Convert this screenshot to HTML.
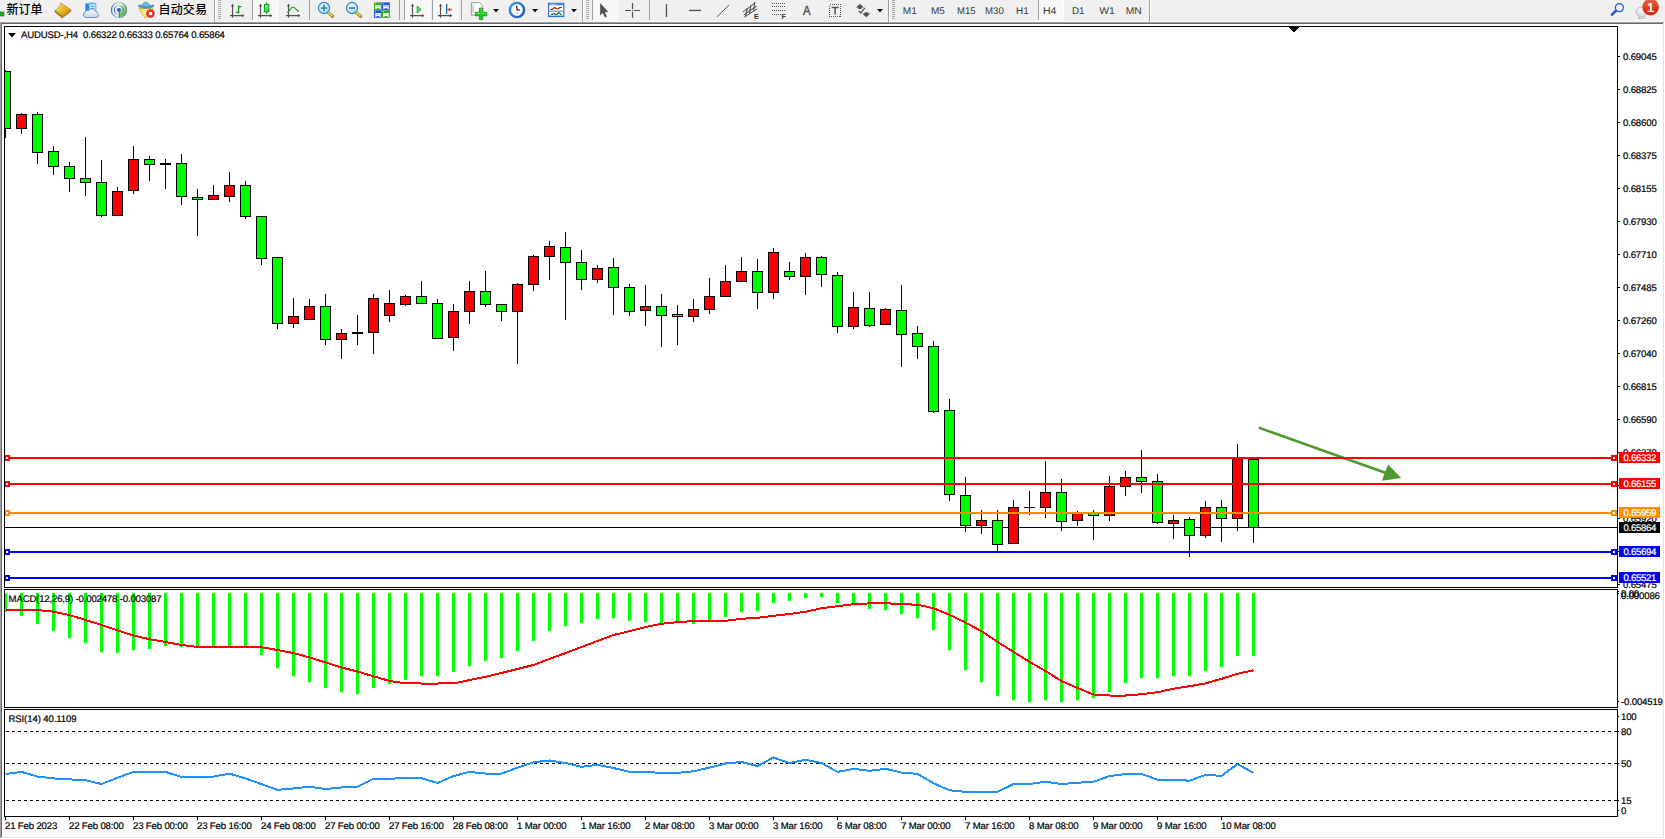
<!DOCTYPE html>
<html><head><meta charset="utf-8"><title>AUDUSD-,H4</title>
<style>
html,body{margin:0;padding:0;background:#fff;}
body{width:1665px;height:839px;position:relative;overflow:hidden;font-family:"Liberation Sans","Noto Sans CJK SC",sans-serif;}
.t{position:absolute;font-size:9.6px;line-height:11px;height:11px;color:#000;white-space:nowrap;letter-spacing:-0.16px;-webkit-text-stroke:0.2px #000;text-rendering:geometricPrecision;}
.pl{position:absolute;left:1619px;width:41px;height:10px;padding-top:1px;font-size:9.6px;line-height:11px;color:#fff;white-space:nowrap;letter-spacing:-0.3px;text-indent:4.5px;-webkit-text-stroke:0.2px #fff;overflow:hidden;text-rendering:geometricPrecision;}
#tb{position:absolute;left:0;top:0;width:1665px;height:21px;background:#f0f0f0;}
#tbh{position:absolute;left:0;top:21px;width:1664px;height:1px;background:#f6f6f6;}
#tbc{position:absolute;left:1664px;top:21px;width:1px;height:1px;background:#f0f0f0;}
#tbl{position:absolute;left:0;top:22px;width:1664px;height:1px;background:#a0a0a0;}
#tbl2{position:absolute;left:1px;top:23px;width:1662px;height:1px;background:#696969;}
#lf0{position:absolute;left:0;top:22px;width:1px;height:816px;background:#a0a0a0;}
#lf1{position:absolute;left:1px;top:23px;width:1px;height:814px;background:#696969;}
#rf{position:absolute;left:1663px;top:24px;width:1px;height:814px;background:#e3e3e3;}
#bf{position:absolute;left:1px;top:837px;width:1663px;height:1px;background:#e3e3e3;}
svg{position:absolute;left:0;top:0;}
.cj{font-family:"Liberation Sans","Noto Sans CJK SC",sans-serif;}
.la{font-family:"Liberation Sans",sans-serif;}
</style></head><body>
<div id="tb"></div><div id="tbh"></div><div id="tbc"></div><div id="tbl"></div><div id="tbl2"></div>
<div id="lf0"></div><div id="lf1"></div><div id="rf"></div><div id="bf"></div>
<svg id="tbsvg" width="1665" height="24" viewBox="0 0 1665 24" style="position:absolute;left:0;top:0"><defs><pattern id="chk" width="2" height="2" patternUnits="userSpaceOnUse"><rect width="2" height="2" fill="#f0f0f0"/><rect width="1" height="1" fill="#fff"/><rect x="1" y="1" width="1" height="1" fill="#fff"/></pattern><linearGradient id="gold" x1="0" y1="0" x2="1" y2="1"><stop offset="0" stop-color="#f8e060"/><stop offset="0.6" stop-color="#e0b020"/><stop offset="1" stop-color="#b07810"/></linearGradient><linearGradient id="blu" x1="0" y1="0" x2="0" y2="1"><stop offset="0" stop-color="#3aa0ff"/><stop offset="1" stop-color="#1060d0"/></linearGradient><radialGradient id="lens" cx="0.4" cy="0.35" r="0.7"><stop offset="0" stop-color="#f0faff"/><stop offset="1" stop-color="#a8d8f0"/></radialGradient><linearGradient id="redb" x1="0" y1="0" x2="0" y2="1"><stop offset="0" stop-color="#ea6844"/><stop offset="0.5" stop-color="#e03c20"/><stop offset="1" stop-color="#d82010"/></linearGradient><linearGradient id="cloud" x1="0" y1="0" x2="0" y2="1"><stop offset="0" stop-color="#ffffff"/><stop offset="1" stop-color="#c4d2ea"/></linearGradient><linearGradient id="face" x1="0" y1="0" x2="1" y2="1"><stop offset="0" stop-color="#f0c830"/><stop offset="0.45" stop-color="#fff0a0"/><stop offset="1" stop-color="#e0a818"/></linearGradient><linearGradient id="cgr" x1="0" y1="0" x2="0" y2="1"><stop offset="0" stop-color="#90f49a"/><stop offset="1" stop-color="#20dc38"/></linearGradient><linearGradient id="clk" x1="0" y1="0" x2="1" y2="1"><stop offset="0" stop-color="#38a0f8"/><stop offset="1" stop-color="#0850b8"/></linearGradient><linearGradient id="bub" x1="0" y1="0" x2="0" y2="1"><stop offset="0" stop-color="#ffffff"/><stop offset="0.5" stop-color="#e4e4ec"/><stop offset="1" stop-color="#d4d4e0"/></linearGradient><linearGradient id="sgr" x1="0" y1="0" x2="1" y2="0"><stop offset="0" stop-color="#3a6cd0"/><stop offset="0.35" stop-color="#a4bce8" stop-opacity="0.75"/><stop offset="0.6" stop-color="#a8ccb8" stop-opacity="0.8"/><stop offset="1" stop-color="#3c7c68" stop-opacity="0.9"/></linearGradient><linearGradient id="sgf" x1="0.2" y1="0" x2="0.5" y2="1"><stop offset="0" stop-color="#d8ecd8" stop-opacity="0.7"/><stop offset="0.6" stop-color="#9cd09c"/><stop offset="1" stop-color="#38a838"/></linearGradient></defs>
<rect x="0" y="12" width="4" height="4" fill="#20b020" stroke="#107010" stroke-width="0.6"/>
<text x="6.4" y="13.8" font-size="12" font-weight="500" fill="#000" class="cj">新订单</text>
<text x="158.6" y="13.8" font-size="12" font-weight="500" fill="#000" class="cj" textLength="48.3" lengthAdjust="spacing">自动交易</text>
<path d="M55 12 L62.2 17.9 L71 11.4 L71 9.8 L62.2 16 L55 10.4 Z" fill="#a86c12" stroke="#8a5408" stroke-width="0.5" stroke-linejoin="round"/><path d="M62.2 16.6 L70.6 10.6" stroke="#f4e4a0" stroke-width="0.6"/><path d="M60.6 3 C61 5 58 9 55 10.6 L62.2 16 L71 9.8 Z" fill="url(#gold)" stroke="#b07a14" stroke-width="0.7" stroke-linejoin="round"/><path d="M61.4 4.6 C61 7 59 9.6 57 10.8" stroke="#fff6c0" stroke-width="0.8" fill="none" opacity="0.8"/>
<polygon points="85.4,3 89,4.4 89,12.4 85.4,12.4" fill="#1e88f8"/><polygon points="85.4,3 92.4,2.2 95.8,3.4 89,4.4" fill="#6cc0ff"/><polygon points="89,4.4 95.8,3.4 95.8,12.4 89,12.4" fill="#e4f2ff" stroke="#2a8cf0" stroke-width="0.7"/><path d="M90.6 6.6 L94.4 6 M90.6 8.6 L94.4 8.2" stroke="#2a8cf0" stroke-width="0.9"/><path d="M86.2 17.5 a2.9 2.9 0 0 1 -0.6 -5.7 a2.2 2.2 0 0 1 3.2 -1.2 a3.3 3.3 0 0 1 6 0.2 a2.4 2.4 0 0 1 2.6 2.2 a2.4 2.4 0 0 1 -1 4.5 Z" fill="url(#cloud)" stroke="#5078c0" stroke-width="0.8"/>
<path d="M118.9 9.9 L122.28 2.65 A8 8 0 0 1 118.90 17.90 Z" fill="url(#sgf)"/><g fill="none"><circle cx="118.9" cy="9.9" r="7.5" stroke="url(#sgr)" stroke-width="1.25"/><circle cx="118.9" cy="9.9" r="4.55" stroke="url(#sgr)" stroke-width="1.2"/></g><circle cx="118.9" cy="9.9" r="1.9" fill="#2458c8"/><rect x="118.85000000000001" y="10.1" width="1.3" height="7.7" fill="#22a822"/>
<path d="M138.8 8.4 L153 8.4 L152.4 11 L146.6 17.8 L144.8 17.8 Z" fill="url(#face)" stroke="#d0a020" stroke-width="0.6" stroke-linejoin="round"/><path d="M138.2 5.6 C138.6 9.2 153.6 9.2 154 5.6 C153.4 4.6 151.4 5.2 150 5.8 L142.4 5.8 C141 5.2 138.8 4.6 138.2 5.6 Z" fill="#4aa0d8" stroke="#2a78b0" stroke-width="0.6"/><path d="M142.2 6.2 C142 1 149.6 1 149.4 6.2 C147 7 144.6 7 142.2 6.2 Z" fill="#6cbcea" stroke="#2a80b8" stroke-width="0.6"/><circle cx="150.5" cy="13.5" r="4.2" fill="#d82010"/><circle cx="150.5" cy="13.5" r="3.4" fill="#ee3020"/><rect x="148.9" y="11.9" width="3.2" height="3.2" fill="#fff"/>
<rect x="214" y="0" width="1" height="22" fill="#a0a0a0" shape-rendering="crispEdges"/><rect x="215" y="0" width="1" height="22" fill="#fff" shape-rendering="crispEdges"/>
<rect x="218" y="0" width="3" height="1" fill="#a8a8a8" shape-rendering="crispEdges"/>
<rect x="218" y="2" width="3" height="1" fill="#a8a8a8" shape-rendering="crispEdges"/>
<rect x="218" y="4" width="3" height="1" fill="#a8a8a8" shape-rendering="crispEdges"/>
<rect x="218" y="6" width="3" height="1" fill="#a8a8a8" shape-rendering="crispEdges"/>
<rect x="218" y="8" width="3" height="1" fill="#a8a8a8" shape-rendering="crispEdges"/>
<rect x="218" y="10" width="3" height="1" fill="#a8a8a8" shape-rendering="crispEdges"/>
<rect x="218" y="12" width="3" height="1" fill="#a8a8a8" shape-rendering="crispEdges"/>
<rect x="218" y="14" width="3" height="1" fill="#a8a8a8" shape-rendering="crispEdges"/>
<rect x="218" y="16" width="3" height="1" fill="#a8a8a8" shape-rendering="crispEdges"/>
<rect x="218" y="18" width="3" height="1" fill="#a8a8a8" shape-rendering="crispEdges"/>
<g stroke="#505050" stroke-width="1.15" fill="none"><path d="M232.5 4.6V17.8M230 15.6H243.6"/></g><polygon points="232.5,3.8 230.9,6.3 234.1,6.3" fill="#505050"/><polygon points="244.4,15.6 241.9,14 241.9,17.2" fill="#505050"/>
<path d="M238.6 5.4V13.6M238.6 6.6H241.4M236 12.4H238.6" stroke="#109018" stroke-width="1.3" fill="none"/>
<rect x="252" y="0" width="1" height="20" fill="#a0a0a0" shape-rendering="crispEdges"/>
<rect x="253" y="0" width="24" height="20" fill="url(#chk)" shape-rendering="crispEdges"/><rect x="252" y="20" width="26" height="1" fill="#fff" shape-rendering="crispEdges"/><rect x="277" y="0" width="1" height="20" fill="#fff" shape-rendering="crispEdges"/>
<g stroke="#505050" stroke-width="1.15" fill="none"><path d="M260.5 4.6V17.8M258 15.6H271.6"/></g><polygon points="260.5,3.8 258.9,6.3 262.1,6.3" fill="#505050"/><polygon points="272.4,15.6 269.9,14 269.9,17.2" fill="#505050"/>
<rect x="266" y="2.4" width="1.2" height="11.6" fill="#109018"/><rect x="264.4" y="4.5" width="4.4" height="7.2" fill="url(#cgr)" stroke="#08a010" stroke-width="1"/>
<g stroke="#505050" stroke-width="1.15" fill="none"><path d="M288.5 4.6V17.8M286 15.6H299.6"/></g><polygon points="288.5,3.8 286.9,6.3 290.1,6.3" fill="#505050"/><polygon points="300.4,15.6 297.9,14 297.9,17.2" fill="#505050"/>
<path d="M287.2 12.6 C289.5 11 291 7.2 293 7.2 C295 7.2 296.5 10.5 298.8 11.4" stroke="#30a030" stroke-width="1.2" fill="none"/>
<rect x="309" y="0" width="1" height="20" fill="#a0a0a0" shape-rendering="crispEdges"/>
<path d="M327.8 12.2 L332.4 16.2" stroke="#b08818" stroke-width="3.2" stroke-linecap="square"/><path d="M327.8 12 L332.4 16" stroke="#f0d860" stroke-width="1.5"/>
<circle cx="324" cy="8" r="5.6" fill="url(#lens)" stroke="#2a80d0" stroke-width="1.1"/>
<rect x="320.8" y="7.2" width="6.4" height="1.7" fill="#3a88b8"/>
<rect x="323.15" y="4.8" width="1.7" height="6.4" fill="#3a88b8"/>
<path d="M355.8 12.2 L360.4 16.2" stroke="#b08818" stroke-width="3.2" stroke-linecap="square"/><path d="M355.8 12 L360.4 16" stroke="#f0d860" stroke-width="1.5"/>
<circle cx="352" cy="8" r="5.6" fill="url(#lens)" stroke="#2a80d0" stroke-width="1.1"/>
<rect x="348.8" y="7.2" width="6.4" height="1.7" fill="#3a88b8"/>
<rect x="374" y="2.4" width="7.8" height="7.6" fill="#3aa428"/><path d="M375.2 9.2 V5.3 H380.7 V9.2 H379.4 V8.2 H376.5 V9.2 Z" fill="#f6faff"/><rect x="376.1" y="6.1" width="3.7" height="0.8" fill="#a8e498"/><rect x="375.2" y="3.3" width="0.9" height="0.9" fill="#d8ecff"/>
<rect x="382" y="2.4" width="7.8" height="7.6" fill="#2456d8"/><path d="M383.2 9.2 V5.3 H388.7 V9.2 H387.4 V8.2 H384.5 V9.2 Z" fill="#f6faff"/><rect x="384.1" y="6.1" width="3.7" height="0.8" fill="#a8b8f4"/><rect x="383.2" y="3.3" width="0.9" height="0.9" fill="#d8ecff"/>
<rect x="374" y="10.2" width="7.8" height="7.6" fill="#2456d8"/><path d="M375.2 17.0 V13.1 H380.7 V17.0 H379.4 V16.0 H376.5 V17.0 Z" fill="#f6faff"/><rect x="376.1" y="13.899999999999999" width="3.7" height="0.8" fill="#a8b8f4"/><rect x="375.2" y="11.1" width="0.9" height="0.9" fill="#d8ecff"/>
<rect x="382" y="10.2" width="7.8" height="7.6" fill="#3aa428"/><path d="M383.2 17.0 V13.1 H388.7 V17.0 H387.4 V16.0 H384.5 V17.0 Z" fill="#f6faff"/><rect x="384.1" y="13.899999999999999" width="3.7" height="0.8" fill="#a8e498"/><rect x="383.2" y="11.1" width="0.9" height="0.9" fill="#d8ecff"/>
<rect x="399" y="0" width="1" height="20" fill="#a0a0a0" shape-rendering="crispEdges"/>
<rect x="404" y="0" width="1" height="20" fill="#a0a0a0" shape-rendering="crispEdges"/>
<rect x="405" y="0" width="24" height="20" fill="url(#chk)" shape-rendering="crispEdges"/><rect x="404" y="20" width="26" height="1" fill="#fff" shape-rendering="crispEdges"/><rect x="429" y="0" width="1" height="20" fill="#fff" shape-rendering="crispEdges"/>
<g stroke="#505050" stroke-width="1.15" fill="none"><path d="M412.5 4.6V17.8M410 15.6H423.6"/></g><polygon points="412.5,3.8 410.9,6.3 414.1,6.3" fill="#505050"/><polygon points="424.4,15.6 421.9,14 421.9,17.2" fill="#505050"/>
<polygon points="417.2,6 421,9.6 417.2,13" fill="#60d868" stroke="#18a020" stroke-width="0.9"/>
<rect x="432" y="0" width="1" height="20" fill="#a0a0a0" shape-rendering="crispEdges"/>
<rect x="433" y="0" width="24" height="20" fill="url(#chk)" shape-rendering="crispEdges"/><rect x="432" y="20" width="26" height="1" fill="#fff" shape-rendering="crispEdges"/><rect x="457" y="0" width="1" height="20" fill="#fff" shape-rendering="crispEdges"/>
<g stroke="#505050" stroke-width="1.15" fill="none"><path d="M440.5 4.6V17.8M438 15.6H451.6"/></g><polygon points="440.5,3.8 438.9,6.3 442.1,6.3" fill="#505050"/><polygon points="452.4,15.6 449.9,14 449.9,17.2" fill="#505050"/>
<rect x="446" y="4" width="1.3" height="10" fill="#1868a8"/><path d="M447.6 9.6 H452" stroke="#e04808" stroke-width="1.2"/><polygon points="447.4,9.6 450.2,7.4 450.2,11.8" fill="#e04808"/>
<rect x="461" y="0" width="1" height="20" fill="#a0a0a0" shape-rendering="crispEdges"/>
<path d="M471.4 2.6 H479.6 L482.6 5.4 V15.2 H471.4 Z" fill="#fbfbfb" stroke="#8a8a8a" stroke-width="0.8"/><path d="M474.6 5.2 c-1.4 0 -1.4 2 -1.4 3.4 s0 3.6 1.4 3.6" stroke="#b0a890" stroke-width="0.9" fill="none"/><path d="M479.4 8.2 H482.8 V12.4 H486.8 V15.8 H482.8 V19.6 H479.4 V15.8 H475.4 V12.4 H479.4 Z" fill="#18c818" stroke="#0a8c0a" stroke-width="0.8"/><path d="M480.4 9.2 H481.8 V13.4 H485.8 M476.4 13.4 H480.4 Z" fill="none" stroke="#80f880" stroke-width="0.8" opacity="0.8"/><path d="M471.8 3 V14.8" stroke="#9a9a9a" stroke-width="0.6"/>
<polygon points="493,9 499,9 496,12.2" fill="#000"/>
<circle cx="517" cy="10" r="7" fill="#fdfdfd" stroke="url(#clk)" stroke-width="2.2"/><circle cx="517" cy="10" r="8.05" fill="none" stroke="#0a50a8" stroke-width="0.4"/><g stroke="#b8b8b8" stroke-width="0.7"><path d="M517 4.6v1M517 14.4v1M511.6 10h1M521.4 10h1M513.2 6.2l.7 .7M520.1 13.1l.7 .7M513.2 13.8l.7 -.7M520.1 6.9l.7 -.7"/></g><path d="M516.6 5.8 L517.2 10.2 L520 10" stroke="#202020" stroke-width="1.2" fill="none"/><path d="M516.2 12.8 H518.6" stroke="#60a8f0" stroke-width="0.8"/>
<polygon points="532,9 538,9 535,12.2" fill="#000"/>
<rect x="548.6" y="3.3" width="15.2" height="13.3" fill="#fff" stroke="#2e6cc4" stroke-width="1.1"/><rect x="549" y="3.6" width="14.4" height="1.7" fill="#4a8ae0"/><rect x="550" y="3.9" width="6" height="0.7" fill="#c8e0ff"/><rect x="549" y="10.7" width="14.4" height="0.9" fill="#3a78d0"/><rect x="549" y="15.6" width="14.4" height="0.9" fill="#2e6cc4"/><path d="M550.4 9.3 H552.4 L553.8 7.9 H555.6 L556.8 8.7 H558.6 L559.8 7.5 H561.8" stroke="#8c1c04" stroke-width="1.15" fill="none"/><path d="M551 14.3 H552.6 L553.8 13.5 L555.4 14.3 H556.8 L558.6 12.5 L560 13.5 L561.4 14.7" stroke="#107c24" stroke-width="1.15" fill="none"/>
<polygon points="571,9 577,9 574,12.2" fill="#000"/>
<rect x="582" y="0" width="1" height="22" fill="#a0a0a0" shape-rendering="crispEdges"/><rect x="583" y="0" width="1" height="22" fill="#fff" shape-rendering="crispEdges"/>
<rect x="586" y="0" width="3" height="1" fill="#a8a8a8" shape-rendering="crispEdges"/>
<rect x="586" y="2" width="3" height="1" fill="#a8a8a8" shape-rendering="crispEdges"/>
<rect x="586" y="4" width="3" height="1" fill="#a8a8a8" shape-rendering="crispEdges"/>
<rect x="586" y="6" width="3" height="1" fill="#a8a8a8" shape-rendering="crispEdges"/>
<rect x="586" y="8" width="3" height="1" fill="#a8a8a8" shape-rendering="crispEdges"/>
<rect x="586" y="10" width="3" height="1" fill="#a8a8a8" shape-rendering="crispEdges"/>
<rect x="586" y="12" width="3" height="1" fill="#a8a8a8" shape-rendering="crispEdges"/>
<rect x="586" y="14" width="3" height="1" fill="#a8a8a8" shape-rendering="crispEdges"/>
<rect x="586" y="16" width="3" height="1" fill="#a8a8a8" shape-rendering="crispEdges"/>
<rect x="586" y="18" width="3" height="1" fill="#a8a8a8" shape-rendering="crispEdges"/>
<rect x="592" y="0" width="1" height="20" fill="#a0a0a0" shape-rendering="crispEdges"/>
<rect x="593" y="0" width="24" height="20" fill="url(#chk)" shape-rendering="crispEdges"/><rect x="592" y="20" width="26" height="1" fill="#fff" shape-rendering="crispEdges"/><rect x="617" y="0" width="1" height="20" fill="#fff" shape-rendering="crispEdges"/>
<path d="M600.2 3 V15.4 L602.8 13 L605 17.4 L606.8 16.6 L604.8 12.2 L608.2 12 Z" fill="#505050"/>
<path d="M632.5 3V9M632.5 12V17.8M625 10.5H631M634 10.5H640" stroke="#505050" stroke-width="1.2" fill="none"/><rect x="632" y="10" width="1" height="1" fill="#505050"/>
<rect x="649" y="0" width="1" height="20" fill="#a0a0a0" shape-rendering="crispEdges"/>
<rect x="665.8" y="4" width="1.3" height="13" fill="#505050"/>
<rect x="689" y="9.8" width="12" height="1.3" fill="#505050"/>
<path d="M717 16.8 L729 5" stroke="#505050" stroke-width="1"/>
<g stroke="#484848" stroke-width="1" fill="none"><path d="M742.9 12.1 L755 2.8M743.8 14.9 L756.9 6M744.3 17.2 L757.3 8.8"/><path d="M747.1 8.4 L745.7 16.3M750.8 5.6 L749.4 14M754.8 2 L753.6 10.7" stroke-width="1.1"/></g>
<text x="754" y="18.6" font-size="7" font-weight="bold" fill="#303030" class="la">E</text>
<line x1="772" x2="785" y1="3.5" y2="3.5" stroke="#505050" stroke-width="1" stroke-dasharray="1 1" shape-rendering="crispEdges"/>
<line x1="772" x2="785" y1="6.9" y2="6.9" stroke="#505050" stroke-width="1" stroke-dasharray="1 1" shape-rendering="crispEdges"/>
<line x1="772" x2="785" y1="10.7" y2="10.7" stroke="#505050" stroke-width="1" stroke-dasharray="1 1" shape-rendering="crispEdges"/>
<line x1="772" x2="781" y1="14.5" y2="14.5" stroke="#505050" stroke-width="1" stroke-dasharray="1 1" shape-rendering="crispEdges"/>
<text x="781.6" y="18.6" font-size="7" font-weight="bold" fill="#303030" class="la">F</text>
<text x="802.9" y="15" font-size="12.4" fill="#505050" stroke="#505050" stroke-width="0.4" class="la" textLength="7.6" lengthAdjust="spacingAndGlyphs">A</text>
<rect x="829.5" y="4.5" width="11" height="12" fill="none" stroke="#505050" stroke-width="1" stroke-dasharray="1 1" shape-rendering="crispEdges"/><path d="M831.6 7.4 H838.6 M835.1 7.4 V14.6" stroke="#505050" stroke-width="1.5" fill="none"/>
<polygon points="859.9,4 855.8,7.6 858.2,7.6 858.2,8.9 861.6,8.9 861.6,7.6 864,7.6" fill="#505050"/><polygon points="866.3,17.3 862.2,13.6 864.6,13.6 864.6,12.2 868,12.2 868,13.6 870.4,13.6" fill="#505050"/><path d="M858.6 10.8 L860.7 13 L864.9 7.9" stroke="#505050" stroke-width="1.2" fill="none"/>
<polygon points="877,9 883,9 880,12.2" fill="#000"/>
<rect x="888" y="0" width="1" height="22" fill="#a0a0a0" shape-rendering="crispEdges"/><rect x="889" y="0" width="1" height="22" fill="#fff" shape-rendering="crispEdges"/>
<rect x="892" y="0" width="3" height="1" fill="#a8a8a8" shape-rendering="crispEdges"/>
<rect x="892" y="2" width="3" height="1" fill="#a8a8a8" shape-rendering="crispEdges"/>
<rect x="892" y="4" width="3" height="1" fill="#a8a8a8" shape-rendering="crispEdges"/>
<rect x="892" y="6" width="3" height="1" fill="#a8a8a8" shape-rendering="crispEdges"/>
<rect x="892" y="8" width="3" height="1" fill="#a8a8a8" shape-rendering="crispEdges"/>
<rect x="892" y="10" width="3" height="1" fill="#a8a8a8" shape-rendering="crispEdges"/>
<rect x="892" y="12" width="3" height="1" fill="#a8a8a8" shape-rendering="crispEdges"/>
<rect x="892" y="14" width="3" height="1" fill="#a8a8a8" shape-rendering="crispEdges"/>
<rect x="892" y="16" width="3" height="1" fill="#a8a8a8" shape-rendering="crispEdges"/>
<rect x="892" y="18" width="3" height="1" fill="#a8a8a8" shape-rendering="crispEdges"/>
<text x="902.8" y="14" font-size="9.8" fill="#383838" class="la" text-rendering="geometricPrecision" textLength="14.0" lengthAdjust="spacingAndGlyphs">M1</text>
<text x="931.0" y="14" font-size="9.8" fill="#383838" class="la" text-rendering="geometricPrecision" textLength="13.9" lengthAdjust="spacingAndGlyphs">M5</text>
<text x="957.1" y="14" font-size="9.8" fill="#383838" class="la" text-rendering="geometricPrecision" textLength="18.5" lengthAdjust="spacingAndGlyphs">M15</text>
<text x="985.1" y="14" font-size="9.8" fill="#383838" class="la" text-rendering="geometricPrecision" textLength="18.7" lengthAdjust="spacingAndGlyphs">M30</text>
<text x="1016.0" y="14" font-size="9.8" fill="#383838" class="la" text-rendering="geometricPrecision" textLength="12.7" lengthAdjust="spacingAndGlyphs">H1</text>
<rect x="1038" y="0" width="1" height="20" fill="#a0a0a0" shape-rendering="crispEdges"/>
<rect x="1039" y="0" width="24" height="20" fill="url(#chk)" shape-rendering="crispEdges"/><rect x="1038" y="20" width="26" height="1" fill="#fff" shape-rendering="crispEdges"/><rect x="1063" y="0" width="1" height="20" fill="#fff" shape-rendering="crispEdges"/>
<text x="1042.9" y="14" font-size="9.8" fill="#383838" class="la" text-rendering="geometricPrecision" textLength="13.5" lengthAdjust="spacingAndGlyphs">H4</text>
<text x="1072.0" y="14" font-size="9.8" fill="#383838" class="la" text-rendering="geometricPrecision" textLength="12.6" lengthAdjust="spacingAndGlyphs">D1</text>
<text x="1099.3" y="14" font-size="9.8" fill="#383838" class="la" text-rendering="geometricPrecision" textLength="15.6" lengthAdjust="spacingAndGlyphs">W1</text>
<text x="1125.8" y="14" font-size="9.8" fill="#383838" class="la" text-rendering="geometricPrecision" textLength="16.0" lengthAdjust="spacingAndGlyphs">MN</text>
<rect x="1149" y="0" width="1" height="22" fill="#a0a0a0" shape-rendering="crispEdges"/><rect x="1150" y="0" width="1" height="22" fill="#fff" shape-rendering="crispEdges"/>
<path d="M1616 10.6 L1612 14.6" stroke="#1c4cc8" stroke-width="2.5" stroke-linecap="round"/><path d="M1615.6 11 L1612.4 14.2" stroke="#9ab4f0" stroke-width="0.7" stroke-dasharray="0.7 0.9"/><circle cx="1619.4" cy="7.6" r="4" fill="#f6f6ff" stroke="#2458d4" stroke-width="1.3"/>
<ellipse cx="1642" cy="18.4" rx="5" ry="0.8" fill="#c8c8c8" opacity="0.6"/><path d="M1636.2 12 a5.7 4.9 0 1 1 5.9 4.9 l-0.6 0 l-2.4 1.9 l0.3 -2.4 a5.7 4.9 0 0 1 -3.2 -4.4 Z" fill="url(#bub)" stroke="#a8a8ac" stroke-width="0.8"/><circle cx="1650.6" cy="7.2" r="8.3" fill="url(#redb)"/><text x="1646.9" y="12.1" font-size="12.8" font-weight="bold" fill="#fff" class="la">1</text></svg>
<svg width="1665" height="839" viewBox="0 0 1665 839" shape-rendering="crispEdges">
<defs><clipPath id="cc"><rect x="5" y="27" width="1612" height="560"/></clipPath></defs>
<rect x="5" y="527" width="1612" height="1" fill="#000"/>
<g id="candles" clip-path="url(#cc)">
<rect x="5" y="70" width="1" height="68" fill="#000"/>
<rect x="0" y="71" width="11" height="58" fill="#000"/>
<rect x="1" y="72" width="9" height="56" fill="#00ff00"/>
<rect x="21" y="113" width="1" height="21" fill="#000"/>
<rect x="16" y="114" width="11" height="15" fill="#000"/>
<rect x="17" y="115" width="9" height="13" fill="#ff0000"/>
<rect x="37" y="112" width="1" height="52" fill="#000"/>
<rect x="32" y="114" width="11" height="39" fill="#000"/>
<rect x="33" y="115" width="9" height="37" fill="#00ff00"/>
<rect x="53" y="146" width="1" height="29" fill="#000"/>
<rect x="48" y="151" width="11" height="16" fill="#000"/>
<rect x="49" y="152" width="9" height="14" fill="#00ff00"/>
<rect x="69" y="162" width="1" height="30" fill="#000"/>
<rect x="64" y="166" width="11" height="13" fill="#000"/>
<rect x="65" y="167" width="9" height="11" fill="#00ff00"/>
<rect x="85" y="137" width="1" height="59" fill="#000"/>
<rect x="80" y="178" width="11" height="5" fill="#000"/>
<rect x="81" y="179" width="9" height="3" fill="#00ff00"/>
<rect x="101" y="160" width="1" height="57" fill="#000"/>
<rect x="96" y="182" width="11" height="34" fill="#000"/>
<rect x="97" y="183" width="9" height="32" fill="#00ff00"/>
<rect x="117" y="187" width="1" height="29" fill="#000"/>
<rect x="112" y="191" width="11" height="25" fill="#000"/>
<rect x="113" y="192" width="9" height="23" fill="#ff0000"/>
<rect x="133" y="146" width="1" height="48" fill="#000"/>
<rect x="128" y="159" width="11" height="32" fill="#000"/>
<rect x="129" y="160" width="9" height="30" fill="#ff0000"/>
<rect x="149" y="156" width="1" height="25" fill="#000"/>
<rect x="144" y="159" width="11" height="6" fill="#000"/>
<rect x="145" y="160" width="9" height="4" fill="#00ff00"/>
<rect x="165" y="159" width="1" height="30" fill="#000"/>
<rect x="160" y="163" width="11" height="2" fill="#000"/>
<rect x="181" y="154" width="1" height="51" fill="#000"/>
<rect x="176" y="163" width="11" height="34" fill="#000"/>
<rect x="177" y="164" width="9" height="32" fill="#00ff00"/>
<rect x="197" y="189" width="1" height="47" fill="#000"/>
<rect x="192" y="197" width="11" height="3" fill="#000"/>
<rect x="193" y="198" width="9" height="1" fill="#00ff00"/>
<rect x="213" y="185" width="1" height="15" fill="#000"/>
<rect x="208" y="195" width="11" height="5" fill="#000"/>
<rect x="209" y="196" width="9" height="3" fill="#ff0000"/>
<rect x="229" y="172" width="1" height="30" fill="#000"/>
<rect x="224" y="185" width="11" height="12" fill="#000"/>
<rect x="225" y="186" width="9" height="10" fill="#ff0000"/>
<rect x="245" y="181" width="1" height="38" fill="#000"/>
<rect x="240" y="185" width="11" height="32" fill="#000"/>
<rect x="241" y="186" width="9" height="30" fill="#00ff00"/>
<rect x="261" y="216" width="1" height="49" fill="#000"/>
<rect x="256" y="216" width="11" height="43" fill="#000"/>
<rect x="257" y="217" width="9" height="41" fill="#00ff00"/>
<rect x="277" y="257" width="1" height="72" fill="#000"/>
<rect x="272" y="257" width="11" height="67" fill="#000"/>
<rect x="273" y="258" width="9" height="65" fill="#00ff00"/>
<rect x="293" y="298" width="1" height="30" fill="#000"/>
<rect x="288" y="316" width="11" height="8" fill="#000"/>
<rect x="289" y="317" width="9" height="6" fill="#ff0000"/>
<rect x="309" y="299" width="1" height="21" fill="#000"/>
<rect x="304" y="306" width="11" height="14" fill="#000"/>
<rect x="305" y="307" width="9" height="12" fill="#ff0000"/>
<rect x="325" y="294" width="1" height="51" fill="#000"/>
<rect x="320" y="306" width="11" height="34" fill="#000"/>
<rect x="321" y="307" width="9" height="32" fill="#00ff00"/>
<rect x="341" y="329" width="1" height="30" fill="#000"/>
<rect x="336" y="333" width="11" height="7" fill="#000"/>
<rect x="337" y="334" width="9" height="5" fill="#ff0000"/>
<rect x="357" y="315" width="1" height="30" fill="#000"/>
<rect x="352" y="332" width="11" height="2" fill="#000"/>
<rect x="373" y="294" width="1" height="60" fill="#000"/>
<rect x="368" y="298" width="11" height="35" fill="#000"/>
<rect x="369" y="299" width="9" height="33" fill="#ff0000"/>
<rect x="389" y="290" width="1" height="32" fill="#000"/>
<rect x="384" y="303" width="11" height="13" fill="#000"/>
<rect x="385" y="304" width="9" height="11" fill="#ff0000"/>
<rect x="405" y="295" width="1" height="11" fill="#000"/>
<rect x="400" y="296" width="11" height="9" fill="#000"/>
<rect x="401" y="297" width="9" height="7" fill="#ff0000"/>
<rect x="421" y="281" width="1" height="23" fill="#000"/>
<rect x="416" y="296" width="11" height="8" fill="#000"/>
<rect x="417" y="297" width="9" height="6" fill="#00ff00"/>
<rect x="437" y="299" width="1" height="40" fill="#000"/>
<rect x="432" y="303" width="11" height="36" fill="#000"/>
<rect x="433" y="304" width="9" height="34" fill="#00ff00"/>
<rect x="453" y="304" width="1" height="47" fill="#000"/>
<rect x="448" y="311" width="11" height="27" fill="#000"/>
<rect x="449" y="312" width="9" height="25" fill="#ff0000"/>
<rect x="469" y="281" width="1" height="43" fill="#000"/>
<rect x="464" y="291" width="11" height="21" fill="#000"/>
<rect x="465" y="292" width="9" height="19" fill="#ff0000"/>
<rect x="485" y="271" width="1" height="36" fill="#000"/>
<rect x="480" y="291" width="11" height="14" fill="#000"/>
<rect x="481" y="292" width="9" height="12" fill="#00ff00"/>
<rect x="501" y="304" width="1" height="17" fill="#000"/>
<rect x="496" y="304" width="11" height="8" fill="#000"/>
<rect x="497" y="305" width="9" height="6" fill="#00ff00"/>
<rect x="517" y="283" width="1" height="81" fill="#000"/>
<rect x="512" y="284" width="11" height="28" fill="#000"/>
<rect x="513" y="285" width="9" height="26" fill="#ff0000"/>
<rect x="533" y="255" width="1" height="36" fill="#000"/>
<rect x="528" y="256" width="11" height="29" fill="#000"/>
<rect x="529" y="257" width="9" height="27" fill="#ff0000"/>
<rect x="549" y="241" width="1" height="39" fill="#000"/>
<rect x="544" y="246" width="11" height="11" fill="#000"/>
<rect x="545" y="247" width="9" height="9" fill="#ff0000"/>
<rect x="565" y="232" width="1" height="88" fill="#000"/>
<rect x="560" y="247" width="11" height="16" fill="#000"/>
<rect x="561" y="248" width="9" height="14" fill="#00ff00"/>
<rect x="581" y="250" width="1" height="40" fill="#000"/>
<rect x="576" y="262" width="11" height="18" fill="#000"/>
<rect x="577" y="263" width="9" height="16" fill="#00ff00"/>
<rect x="597" y="265" width="1" height="18" fill="#000"/>
<rect x="592" y="268" width="11" height="12" fill="#000"/>
<rect x="593" y="269" width="9" height="10" fill="#ff0000"/>
<rect x="613" y="258" width="1" height="57" fill="#000"/>
<rect x="608" y="267" width="11" height="21" fill="#000"/>
<rect x="609" y="268" width="9" height="19" fill="#00ff00"/>
<rect x="629" y="284" width="1" height="32" fill="#000"/>
<rect x="624" y="287" width="11" height="25" fill="#000"/>
<rect x="625" y="288" width="9" height="23" fill="#00ff00"/>
<rect x="645" y="285" width="1" height="41" fill="#000"/>
<rect x="640" y="306" width="11" height="5" fill="#000"/>
<rect x="641" y="307" width="9" height="3" fill="#ff0000"/>
<rect x="661" y="294" width="1" height="53" fill="#000"/>
<rect x="656" y="306" width="11" height="10" fill="#000"/>
<rect x="657" y="307" width="9" height="8" fill="#00ff00"/>
<rect x="677" y="305" width="1" height="40" fill="#000"/>
<rect x="672" y="314" width="11" height="3" fill="#000"/>
<rect x="673" y="315" width="9" height="1" fill="#00ff00"/>
<rect x="693" y="299" width="1" height="23" fill="#000"/>
<rect x="688" y="309" width="11" height="8" fill="#000"/>
<rect x="689" y="310" width="9" height="6" fill="#ff0000"/>
<rect x="709" y="278" width="1" height="36" fill="#000"/>
<rect x="704" y="296" width="11" height="14" fill="#000"/>
<rect x="705" y="297" width="9" height="12" fill="#ff0000"/>
<rect x="725" y="265" width="1" height="32" fill="#000"/>
<rect x="720" y="281" width="11" height="16" fill="#000"/>
<rect x="721" y="282" width="9" height="14" fill="#ff0000"/>
<rect x="741" y="257" width="1" height="25" fill="#000"/>
<rect x="736" y="271" width="11" height="11" fill="#000"/>
<rect x="737" y="272" width="9" height="9" fill="#ff0000"/>
<rect x="757" y="259" width="1" height="50" fill="#000"/>
<rect x="752" y="271" width="11" height="22" fill="#000"/>
<rect x="753" y="272" width="9" height="20" fill="#00ff00"/>
<rect x="773" y="248" width="1" height="51" fill="#000"/>
<rect x="768" y="252" width="11" height="41" fill="#000"/>
<rect x="769" y="253" width="9" height="39" fill="#ff0000"/>
<rect x="789" y="262" width="1" height="18" fill="#000"/>
<rect x="784" y="271" width="11" height="6" fill="#000"/>
<rect x="785" y="272" width="9" height="4" fill="#00ff00"/>
<rect x="805" y="253" width="1" height="42" fill="#000"/>
<rect x="800" y="257" width="11" height="20" fill="#000"/>
<rect x="801" y="258" width="9" height="18" fill="#ff0000"/>
<rect x="821" y="256" width="1" height="31" fill="#000"/>
<rect x="816" y="257" width="11" height="18" fill="#000"/>
<rect x="817" y="258" width="9" height="16" fill="#00ff00"/>
<rect x="837" y="272" width="1" height="61" fill="#000"/>
<rect x="832" y="275" width="11" height="52" fill="#000"/>
<rect x="833" y="276" width="9" height="50" fill="#00ff00"/>
<rect x="853" y="292" width="1" height="37" fill="#000"/>
<rect x="848" y="307" width="11" height="20" fill="#000"/>
<rect x="849" y="308" width="9" height="18" fill="#ff0000"/>
<rect x="869" y="292" width="1" height="35" fill="#000"/>
<rect x="864" y="308" width="11" height="18" fill="#000"/>
<rect x="865" y="309" width="9" height="16" fill="#00ff00"/>
<rect x="885" y="308" width="1" height="17" fill="#000"/>
<rect x="880" y="309" width="11" height="16" fill="#000"/>
<rect x="881" y="310" width="9" height="14" fill="#ff0000"/>
<rect x="901" y="285" width="1" height="82" fill="#000"/>
<rect x="896" y="310" width="11" height="25" fill="#000"/>
<rect x="897" y="311" width="9" height="23" fill="#00ff00"/>
<rect x="917" y="326" width="1" height="33" fill="#000"/>
<rect x="912" y="333" width="11" height="14" fill="#000"/>
<rect x="913" y="334" width="9" height="12" fill="#00ff00"/>
<rect x="933" y="341" width="1" height="72" fill="#000"/>
<rect x="928" y="346" width="11" height="66" fill="#000"/>
<rect x="929" y="347" width="9" height="64" fill="#00ff00"/>
<rect x="949" y="399" width="1" height="102" fill="#000"/>
<rect x="944" y="410" width="11" height="85" fill="#000"/>
<rect x="945" y="411" width="9" height="83" fill="#00ff00"/>
<rect x="965" y="477" width="1" height="55" fill="#000"/>
<rect x="960" y="495" width="11" height="31" fill="#000"/>
<rect x="961" y="496" width="9" height="29" fill="#00ff00"/>
<rect x="981" y="510" width="1" height="24" fill="#000"/>
<rect x="976" y="520" width="11" height="6" fill="#000"/>
<rect x="977" y="521" width="9" height="4" fill="#ff0000"/>
<rect x="997" y="510" width="1" height="41" fill="#000"/>
<rect x="992" y="520" width="11" height="25" fill="#000"/>
<rect x="993" y="521" width="9" height="23" fill="#00ff00"/>
<rect x="1013" y="500" width="1" height="44" fill="#000"/>
<rect x="1008" y="507" width="11" height="37" fill="#000"/>
<rect x="1009" y="508" width="9" height="35" fill="#ff0000"/>
<rect x="1029" y="491" width="1" height="24" fill="#000"/>
<rect x="1024" y="507" width="11" height="1" fill="#000"/>
<rect x="1045" y="461" width="1" height="57" fill="#000"/>
<rect x="1040" y="492" width="11" height="16" fill="#000"/>
<rect x="1041" y="493" width="9" height="14" fill="#ff0000"/>
<rect x="1061" y="479" width="1" height="52" fill="#000"/>
<rect x="1056" y="492" width="11" height="30" fill="#000"/>
<rect x="1057" y="493" width="9" height="28" fill="#00ff00"/>
<rect x="1077" y="511" width="1" height="15" fill="#000"/>
<rect x="1072" y="513" width="11" height="8" fill="#000"/>
<rect x="1073" y="514" width="9" height="6" fill="#ff0000"/>
<rect x="1093" y="510" width="1" height="30" fill="#000"/>
<rect x="1088" y="513" width="11" height="3" fill="#000"/>
<rect x="1089" y="514" width="9" height="1" fill="#00ff00"/>
<rect x="1109" y="476" width="1" height="45" fill="#000"/>
<rect x="1104" y="486" width="11" height="30" fill="#000"/>
<rect x="1105" y="487" width="9" height="28" fill="#ff0000"/>
<rect x="1125" y="471" width="1" height="25" fill="#000"/>
<rect x="1120" y="477" width="11" height="10" fill="#000"/>
<rect x="1121" y="478" width="9" height="8" fill="#ff0000"/>
<rect x="1141" y="450" width="1" height="43" fill="#000"/>
<rect x="1136" y="477" width="11" height="5" fill="#000"/>
<rect x="1137" y="478" width="9" height="3" fill="#00ff00"/>
<rect x="1157" y="474" width="1" height="50" fill="#000"/>
<rect x="1152" y="481" width="11" height="42" fill="#000"/>
<rect x="1153" y="482" width="9" height="40" fill="#00ff00"/>
<rect x="1173" y="515" width="1" height="24" fill="#000"/>
<rect x="1168" y="520" width="11" height="4" fill="#000"/>
<rect x="1169" y="521" width="9" height="2" fill="#ff0000"/>
<rect x="1189" y="517" width="1" height="40" fill="#000"/>
<rect x="1184" y="519" width="11" height="17" fill="#000"/>
<rect x="1185" y="520" width="9" height="15" fill="#00ff00"/>
<rect x="1205" y="501" width="1" height="37" fill="#000"/>
<rect x="1200" y="507" width="11" height="29" fill="#000"/>
<rect x="1201" y="508" width="9" height="27" fill="#ff0000"/>
<rect x="1221" y="500" width="1" height="42" fill="#000"/>
<rect x="1216" y="507" width="11" height="12" fill="#000"/>
<rect x="1217" y="508" width="9" height="10" fill="#00ff00"/>
<rect x="1237" y="444" width="1" height="87" fill="#000"/>
<rect x="1232" y="459" width="11" height="60" fill="#000"/>
<rect x="1233" y="460" width="9" height="58" fill="#ff0000"/>
<rect x="1253" y="459" width="1" height="84" fill="#000"/>
<rect x="1248" y="459" width="11" height="69" fill="#000"/>
<rect x="1249" y="460" width="9" height="67" fill="#00ff00"/>
</g>
<g id="arrow"><line x1="1258.7" y1="427.6" x2="1386" y2="473" stroke="#4e9a2e" stroke-width="2.6" shape-rendering="auto"/><polygon points="1401.3,478.1 1388.1,464.6 1381.8,480.8" fill="#4e9a2e" shape-rendering="auto"/></g>
<g id="hlines">
<rect x="5" y="457" width="1612" height="2" fill="#ff0000"/>
<rect x="4" y="455" width="6" height="6" fill="#ff0000"/><rect x="6" y="457" width="2" height="2" fill="#fff"/>
<rect x="1611" y="455" width="6" height="6" fill="#ff0000"/><rect x="1613" y="457" width="2" height="2" fill="#fff"/>
<rect x="5" y="483" width="1612" height="2" fill="#ff0000"/>
<rect x="4" y="481" width="6" height="6" fill="#ff0000"/><rect x="6" y="483" width="2" height="2" fill="#fff"/>
<rect x="1611" y="481" width="6" height="6" fill="#ff0000"/><rect x="1613" y="483" width="2" height="2" fill="#fff"/>
<rect x="5" y="512" width="1612" height="2" fill="#ff8c00"/>
<rect x="4" y="510" width="6" height="6" fill="#ff8c00"/><rect x="6" y="512" width="2" height="2" fill="#fff"/>
<rect x="1611" y="510" width="6" height="6" fill="#ff8c00"/><rect x="1613" y="512" width="2" height="2" fill="#fff"/>
<rect x="5" y="551" width="1612" height="2" fill="#0000ff"/>
<rect x="4" y="549" width="6" height="6" fill="#0000ff"/><rect x="6" y="551" width="2" height="2" fill="#fff"/>
<rect x="1611" y="549" width="6" height="6" fill="#0000ff"/><rect x="1613" y="551" width="2" height="2" fill="#fff"/>
<rect x="5" y="577" width="1612" height="2" fill="#0000ff"/>
<rect x="4" y="575" width="6" height="6" fill="#0000ff"/><rect x="6" y="577" width="2" height="2" fill="#fff"/>
<rect x="1611" y="575" width="6" height="6" fill="#0000ff"/><rect x="1613" y="577" width="2" height="2" fill="#fff"/>
</g>
<g id="macd">
<rect x="4" y="593" width="3" height="19" fill="#00ff00"/>
<rect x="20" y="593" width="3" height="23" fill="#00ff00"/>
<rect x="36" y="593" width="3" height="31" fill="#00ff00"/>
<rect x="52" y="593" width="3" height="38" fill="#00ff00"/>
<rect x="68" y="593" width="3" height="45" fill="#00ff00"/>
<rect x="84" y="593" width="3" height="50" fill="#00ff00"/>
<rect x="100" y="593" width="3" height="59" fill="#00ff00"/>
<rect x="116" y="593" width="3" height="60" fill="#00ff00"/>
<rect x="132" y="593" width="3" height="57" fill="#00ff00"/>
<rect x="148" y="593" width="3" height="56" fill="#00ff00"/>
<rect x="164" y="593" width="3" height="53" fill="#00ff00"/>
<rect x="180" y="593" width="3" height="54" fill="#00ff00"/>
<rect x="196" y="593" width="3" height="55" fill="#00ff00"/>
<rect x="212" y="593" width="3" height="54" fill="#00ff00"/>
<rect x="228" y="593" width="3" height="54" fill="#00ff00"/>
<rect x="244" y="593" width="3" height="54" fill="#00ff00"/>
<rect x="260" y="593" width="3" height="62" fill="#00ff00"/>
<rect x="276" y="593" width="3" height="75" fill="#00ff00"/>
<rect x="292" y="593" width="3" height="83" fill="#00ff00"/>
<rect x="308" y="593" width="3" height="89" fill="#00ff00"/>
<rect x="324" y="593" width="3" height="95" fill="#00ff00"/>
<rect x="340" y="593" width="3" height="99" fill="#00ff00"/>
<rect x="356" y="593" width="3" height="101" fill="#00ff00"/>
<rect x="372" y="593" width="3" height="95" fill="#00ff00"/>
<rect x="388" y="593" width="3" height="91" fill="#00ff00"/>
<rect x="404" y="593" width="3" height="87" fill="#00ff00"/>
<rect x="420" y="593" width="3" height="83" fill="#00ff00"/>
<rect x="436" y="593" width="3" height="83" fill="#00ff00"/>
<rect x="452" y="593" width="3" height="79" fill="#00ff00"/>
<rect x="468" y="593" width="3" height="73" fill="#00ff00"/>
<rect x="484" y="593" width="3" height="68" fill="#00ff00"/>
<rect x="500" y="593" width="3" height="65" fill="#00ff00"/>
<rect x="516" y="593" width="3" height="58" fill="#00ff00"/>
<rect x="532" y="593" width="3" height="48" fill="#00ff00"/>
<rect x="548" y="593" width="3" height="38" fill="#00ff00"/>
<rect x="564" y="593" width="3" height="33" fill="#00ff00"/>
<rect x="580" y="593" width="3" height="30" fill="#00ff00"/>
<rect x="596" y="593" width="3" height="26" fill="#00ff00"/>
<rect x="612" y="593" width="3" height="25" fill="#00ff00"/>
<rect x="628" y="593" width="3" height="28" fill="#00ff00"/>
<rect x="644" y="593" width="3" height="29" fill="#00ff00"/>
<rect x="660" y="593" width="3" height="30" fill="#00ff00"/>
<rect x="676" y="593" width="3" height="30" fill="#00ff00"/>
<rect x="692" y="593" width="3" height="31" fill="#00ff00"/>
<rect x="708" y="593" width="3" height="27" fill="#00ff00"/>
<rect x="724" y="593" width="3" height="24" fill="#00ff00"/>
<rect x="740" y="593" width="3" height="19" fill="#00ff00"/>
<rect x="756" y="593" width="3" height="18" fill="#00ff00"/>
<rect x="772" y="593" width="3" height="10" fill="#00ff00"/>
<rect x="788" y="593" width="3" height="8" fill="#00ff00"/>
<rect x="804" y="593" width="3" height="5" fill="#00ff00"/>
<rect x="820" y="593" width="3" height="4" fill="#00ff00"/>
<rect x="836" y="593" width="3" height="10" fill="#00ff00"/>
<rect x="852" y="593" width="3" height="12" fill="#00ff00"/>
<rect x="868" y="593" width="3" height="16" fill="#00ff00"/>
<rect x="884" y="593" width="3" height="17" fill="#00ff00"/>
<rect x="900" y="593" width="3" height="21" fill="#00ff00"/>
<rect x="916" y="593" width="3" height="25" fill="#00ff00"/>
<rect x="932" y="593" width="3" height="37" fill="#00ff00"/>
<rect x="948" y="593" width="3" height="57" fill="#00ff00"/>
<rect x="964" y="593" width="3" height="77" fill="#00ff00"/>
<rect x="980" y="593" width="3" height="89" fill="#00ff00"/>
<rect x="996" y="593" width="3" height="103" fill="#00ff00"/>
<rect x="1012" y="593" width="3" height="107" fill="#00ff00"/>
<rect x="1028" y="593" width="3" height="109" fill="#00ff00"/>
<rect x="1044" y="593" width="3" height="107" fill="#00ff00"/>
<rect x="1060" y="593" width="3" height="109" fill="#00ff00"/>
<rect x="1076" y="593" width="3" height="107" fill="#00ff00"/>
<rect x="1092" y="593" width="3" height="105" fill="#00ff00"/>
<rect x="1108" y="593" width="3" height="99" fill="#00ff00"/>
<rect x="1124" y="593" width="3" height="90" fill="#00ff00"/>
<rect x="1140" y="593" width="3" height="85" fill="#00ff00"/>
<rect x="1156" y="593" width="3" height="85" fill="#00ff00"/>
<rect x="1172" y="593" width="3" height="83" fill="#00ff00"/>
<rect x="1188" y="593" width="3" height="83" fill="#00ff00"/>
<rect x="1204" y="593" width="3" height="78" fill="#00ff00"/>
<rect x="1220" y="593" width="3" height="74" fill="#00ff00"/>
<rect x="1236" y="593" width="3" height="63" fill="#00ff00"/>
<rect x="1252" y="593" width="3" height="63" fill="#00ff00"/>
<polyline points="5.5,610.0 21.5,610.0 37.5,610.0 53.5,611.7 69.5,615.0 85.5,620.0 101.5,624.9 117.5,630.4 133.5,635.5 149.5,639.2 165.5,642.0 181.5,645.0 197.5,647.0 213.5,647.3 229.5,647.3 245.5,647.3 261.5,647.3 277.5,650.0 293.5,653.1 309.5,657.4 325.5,662.4 341.5,667.5 357.5,671.5 373.5,676.3 389.5,680.9 405.5,683.4 421.5,683.5 437.5,683.5 453.5,683.4 469.5,680.1 485.5,676.8 501.5,673.0 517.5,669.0 533.5,665.0 549.5,658.9 565.5,653.1 581.5,647.0 597.5,641.0 613.5,635.0 629.5,631.2 645.5,627.1 661.5,623.8 677.5,622.1 693.5,621.1 709.5,620.8 725.5,620.8 741.5,618.8 757.5,617.8 773.5,615.8 789.5,614.0 805.5,611.8 821.5,608.2 837.5,606.2 853.5,604.2 869.5,603.4 885.5,603.2 901.5,604.2 917.5,604.7 933.5,608.2 949.5,614.8 965.5,622.6 981.5,631.2 997.5,641.8 1013.5,651.9 1029.5,661.9 1045.5,671.0 1061.5,681.1 1077.5,687.9 1093.5,694.5 1109.5,695.5 1125.5,695.5 1141.5,694.2 1157.5,692.2 1173.5,688.7 1189.5,686.2 1205.5,683.4 1221.5,678.8 1237.5,673.8 1253.5,670.3" fill="none" stroke="#ff0000" stroke-width="2" stroke-linejoin="round"/>
</g>
<g id="rsi">
<line x1="6" x2="1617" y1="731.5" y2="731.5" stroke="#000" stroke-width="1" stroke-dasharray="3 3" shape-rendering="crispEdges"/>
<line x1="6" x2="1617" y1="763.5" y2="763.5" stroke="#000" stroke-width="1" stroke-dasharray="3 3" shape-rendering="crispEdges"/>
<line x1="6" x2="1617" y1="800.5" y2="800.5" stroke="#000" stroke-width="1" stroke-dasharray="3 3" shape-rendering="crispEdges"/>
<polyline points="5.5,773.9 21.5,771.9 37.5,776.6 53.5,778.4 69.5,779.4 85.5,780.2 101.5,784.0 117.5,777.7 133.5,771.9 149.5,771.9 165.5,771.9 181.5,776.9 197.5,776.9 213.5,776.6 229.5,773.6 245.5,778.4 261.5,784.2 277.5,789.8 293.5,788.5 309.5,786.7 325.5,789.0 341.5,787.5 357.5,786.7 373.5,778.9 389.5,778.9 405.5,777.7 421.5,778.2 437.5,783.0 453.5,776.1 469.5,771.9 485.5,773.6 501.5,773.6 517.5,767.6 533.5,762.3 549.5,760.5 565.5,763.0 581.5,766.8 597.5,764.8 613.5,768.0 629.5,771.9 645.5,771.9 661.5,772.9 677.5,772.9 693.5,771.3 709.5,767.6 725.5,763.5 741.5,762.0 757.5,766.0 773.5,757.5 789.5,763.0 805.5,759.7 821.5,763.0 837.5,771.9 853.5,768.8 869.5,770.8 885.5,768.8 901.5,772.6 917.5,773.9 933.5,783.2 949.5,790.3 965.5,791.8 981.5,791.8 997.5,791.8 1013.5,784.0 1029.5,784.0 1045.5,781.7 1061.5,784.0 1077.5,782.7 1093.5,781.7 1109.5,776.1 1125.5,774.1 1141.5,773.9 1157.5,779.7 1173.5,779.7 1189.5,780.7 1205.5,774.9 1221.5,775.8 1237.5,764.1 1253.5,772.9" fill="none" stroke="#1e90ff" stroke-width="2" stroke-linejoin="round"/>
</g>
<g id="frames">
<rect x="4" y="26" width="1" height="791" fill="#000"/>
<rect x="1617" y="26" width="1" height="791" fill="#000"/>
<rect x="4" y="26" width="1614" height="1" fill="#000"/>
<rect x="4" y="587" width="1614" height="1" fill="#000"/>
<rect x="4" y="589" width="1614" height="1" fill="#000"/>
<rect x="4" y="707" width="1614" height="1" fill="#000"/>
<rect x="4" y="709" width="1614" height="1" fill="#000"/>
<rect x="4" y="816" width="1614" height="1" fill="#000"/>
<rect x="4" y="588" width="1" height="1" fill="#fff"/><rect x="1617" y="588" width="1" height="1" fill="#fff"/>
<rect x="4" y="708" width="1" height="1" fill="#fff"/><rect x="1617" y="708" width="1" height="1" fill="#fff"/>
<rect x="1618" y="591" width="1" height="1" fill="#000"/>
<rect x="1618" y="593" width="1" height="1" fill="#000"/>
<rect x="1618" y="701" width="1" height="1" fill="#000"/>
<rect x="1618" y="716" width="1" height="1" fill="#000"/>
<rect x="1618" y="731" width="1" height="1" fill="#000"/>
<rect x="1618" y="763" width="1" height="1" fill="#000"/>
<rect x="1618" y="800" width="1" height="1" fill="#000"/>
<rect x="1618" y="810" width="1" height="1" fill="#000"/>
<polygon points="1288,27 1299,27 1293.5,32.5" fill="#000"/>
<rect x="1618" y="56" width="2" height="1" fill="#000"/>
<rect x="1618" y="89" width="2" height="1" fill="#000"/>
<rect x="1618" y="122" width="2" height="1" fill="#000"/>
<rect x="1618" y="155" width="2" height="1" fill="#000"/>
<rect x="1618" y="188" width="2" height="1" fill="#000"/>
<rect x="1618" y="221" width="2" height="1" fill="#000"/>
<rect x="1618" y="254" width="2" height="1" fill="#000"/>
<rect x="1618" y="287" width="2" height="1" fill="#000"/>
<rect x="1618" y="320" width="2" height="1" fill="#000"/>
<rect x="1618" y="353" width="2" height="1" fill="#000"/>
<rect x="1618" y="386" width="2" height="1" fill="#000"/>
<rect x="1618" y="419" width="2" height="1" fill="#000"/>
<rect x="1618" y="452" width="2" height="1" fill="#000"/>
<rect x="1618" y="485" width="2" height="1" fill="#000"/>
<rect x="1618" y="518" width="2" height="1" fill="#000"/>
<rect x="1618" y="551" width="2" height="1" fill="#000"/>
<rect x="1618" y="584" width="2" height="1" fill="#000"/>
<rect x="5" y="817" width="1" height="3" fill="#000"/>
<rect x="69" y="817" width="1" height="3" fill="#000"/>
<rect x="133" y="817" width="1" height="3" fill="#000"/>
<rect x="197" y="817" width="1" height="3" fill="#000"/>
<rect x="261" y="817" width="1" height="3" fill="#000"/>
<rect x="325" y="817" width="1" height="3" fill="#000"/>
<rect x="389" y="817" width="1" height="3" fill="#000"/>
<rect x="453" y="817" width="1" height="3" fill="#000"/>
<rect x="517" y="817" width="1" height="3" fill="#000"/>
<rect x="581" y="817" width="1" height="3" fill="#000"/>
<rect x="645" y="817" width="1" height="3" fill="#000"/>
<rect x="709" y="817" width="1" height="3" fill="#000"/>
<rect x="773" y="817" width="1" height="3" fill="#000"/>
<rect x="837" y="817" width="1" height="3" fill="#000"/>
<rect x="901" y="817" width="1" height="3" fill="#000"/>
<rect x="965" y="817" width="1" height="3" fill="#000"/>
<rect x="1029" y="817" width="1" height="3" fill="#000"/>
<rect x="1093" y="817" width="1" height="3" fill="#000"/>
<rect x="1157" y="817" width="1" height="3" fill="#000"/>
<rect x="1221" y="817" width="1" height="3" fill="#000"/>
</g>
</svg>
<div id="labels">
<svg width="8" height="5" style="left:8px;top:33px"><polygon points="0,0 8,0 4,4.5" fill="#000"/></svg>
<div class="t" style="left:1623px;top:52px;">0.69045</div>
<div class="t" style="left:1623px;top:85px;">0.68825</div>
<div class="t" style="left:1623px;top:118px;">0.68600</div>
<div class="t" style="left:1623px;top:151px;">0.68375</div>
<div class="t" style="left:1623px;top:184px;">0.68155</div>
<div class="t" style="left:1623px;top:217px;">0.67930</div>
<div class="t" style="left:1623px;top:250px;">0.67710</div>
<div class="t" style="left:1623px;top:283px;">0.67485</div>
<div class="t" style="left:1623px;top:316px;">0.67260</div>
<div class="t" style="left:1623px;top:349px;">0.67040</div>
<div class="t" style="left:1623px;top:382px;">0.66815</div>
<div class="t" style="left:1623px;top:415px;">0.66590</div>
<div class="t" style="left:1623px;top:448px;">0.66370</div>
<div class="t" style="left:1623px;top:480px;">0.66150</div>
<div class="t" style="left:1623px;top:514px;">0.65920</div>
<div class="t" style="left:1623px;top:547px;">0.65700</div>
<div class="t" style="left:1623px;top:580px;">0.65475</div>
<div class="t" style="left:5px;top:821px;">21 Feb 2023</div>
<div class="t" style="left:69px;top:821px;">22 Feb 08:00</div>
<div class="t" style="left:133px;top:821px;">23 Feb 00:00</div>
<div class="t" style="left:197px;top:821px;">23 Feb 16:00</div>
<div class="t" style="left:261px;top:821px;">24 Feb 08:00</div>
<div class="t" style="left:325px;top:821px;">27 Feb 00:00</div>
<div class="t" style="left:389px;top:821px;">27 Feb 16:00</div>
<div class="t" style="left:453px;top:821px;">28 Feb 08:00</div>
<div class="t" style="left:517px;top:821px;">1 Mar 00:00</div>
<div class="t" style="left:581px;top:821px;">1 Mar 16:00</div>
<div class="t" style="left:645px;top:821px;">2 Mar 08:00</div>
<div class="t" style="left:709px;top:821px;">3 Mar 00:00</div>
<div class="t" style="left:773px;top:821px;">3 Mar 16:00</div>
<div class="t" style="left:837px;top:821px;">6 Mar 08:00</div>
<div class="t" style="left:901px;top:821px;">7 Mar 00:00</div>
<div class="t" style="left:965px;top:821px;">7 Mar 16:00</div>
<div class="t" style="left:1029px;top:821px;">8 Mar 08:00</div>
<div class="t" style="left:1093px;top:821px;">9 Mar 00:00</div>
<div class="t" style="left:1157px;top:821px;">9 Mar 16:00</div>
<div class="t" style="left:1221px;top:821px;">10 Mar 08:00</div>
<div class="t" style="left:1621px;top:589px;">0.00</div>
<div class="t" style="left:1621px;top:591px;">0.000086</div>
<div class="t" style="left:1621px;top:697px;">-0.004519</div>
<div class="t" style="left:1621px;top:712px;">100</div>
<div class="t" style="left:1621px;top:727px;">80</div>
<div class="t" style="left:1621px;top:759px;">50</div>
<div class="t" style="left:1621px;top:796px;">15</div>
<div class="t" style="left:1621px;top:806px;">0</div>
<div class="t" style="left:8.6px;top:594px;letter-spacing:-0.17px">MACD(12,26,9) -0.002478 -0.003087</div>
<div class="t" style="left:8.4px;top:714px;letter-spacing:-0.1px">RSI(14) 40.1109</div>
<div class="t" style="left:21px;top:30px;">AUDUSD-,H4&nbsp; 0.66322 0.66333 0.65764 0.65864</div>
<div class="pl" style="top:452px;background:#ff0000">0.66332</div>
<div class="pl" style="top:478px;background:#ff0000">0.66155</div>
<div class="pl" style="top:507px;background:#ff8c00">0.65959</div>
<div class="pl" style="top:546px;background:#0000ff">0.65694</div>
<div class="pl" style="top:572px;background:#0000ff">0.65521</div>
<div class="pl" style="top:522px;background:#000">0.65864</div>
</div>
</body></html>
